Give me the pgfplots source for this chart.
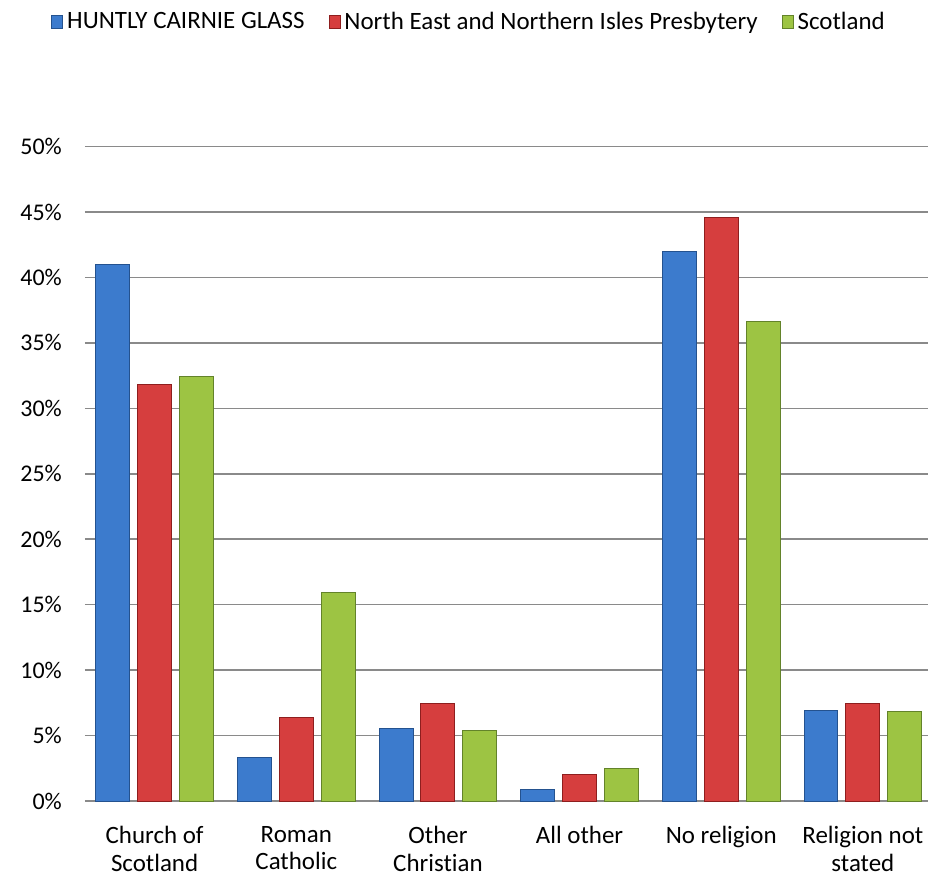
\documentclass[border=0pt]{standalone}
\usepackage{fontspec}
\setmainfont{Carlito}[Ligatures=NoCommon]
\usepackage{pgfplots}
\pgfplotsset{compat=1.18}
\definecolor{bblue}{HTML}{3C7BCD}
\definecolor{bbluedk}{HTML}{24528F}
\definecolor{rred}{HTML}{D63E3E}
\definecolor{rreddk}{HTML}{8E1E1E}
\definecolor{ggreen}{HTML}{9DC443}
\definecolor{ggreendk}{HTML}{63832A}
\definecolor{gridgray}{HTML}{8A8A8A}
\begin{document}
\begin{tikzpicture}
\begin{axis}[
  width=422.5pt, height=328pt, scale only axis,
  clip=false,
  xmin=-0.493, xmax=5.458, ymin=0, ymax=50,
  ybar=4pt, bar width=17pt,
  xtick={0,...,5},
  xticklabels={{Church of\\Scotland},{Roman\\Catholic},{Other\\Christian},{All other},{No religion},{Religion not\\stated}},
  xticklabel style={align=center, font=\fontsize{12.5}{14}\selectfont, yshift=-9pt, anchor=north},
  ytick={0,5,...,50},
  yticklabel={\pgfmathprintnumber{\tick}\%},
  yticklabel style={font=\fontsize{12}{13.5}\selectfont, xshift=-8pt},
  /pgf/number format/assume math mode=true,
  axis line style={draw=none},
  major tick length=0pt,
  ymajorgrids,
  major grid style={draw=gridgray, line width=0.8pt},
  legend columns=-1,
  legend style={draw=none, fill=none, font=\fontsize{12.5}{14}\selectfont,
    at={(rel axis cs:0.457,1.19)}, anchor=center,
    /tikz/every even column/.append style={column sep=10pt},
    /tikz/every odd column/.append style={column sep=0pt}},
  legend image code/.code={\draw[#1] (0pt,-3.25pt) rectangle (5.5pt,3.25pt);},
]
\addplot[draw=bbluedk, line width=0.5pt, fill=bblue]
  coordinates {(0,41.0) (1,3.3) (2,5.55) (3,0.9) (4,42.0) (5,6.9)};
\addplot[draw=rreddk, line width=0.5pt, fill=rred]
  coordinates {(0,31.8) (1,6.4) (2,7.45) (3,2.0) (4,44.6) (5,7.45)};
\addplot[draw=ggreendk, line width=0.5pt, fill=ggreen]
  coordinates {(0,32.4) (1,15.9) (2,5.4) (3,2.5) (4,36.6) (5,6.85)};
\legend{HUNTLY CAIRNIE GLASS, North East and Northern Isles Presbytery, Scotland}
\path (rel axis cs:-0.1006,-0.1098) rectangle (rel axis cs:1,1.224);
\end{axis}
\end{tikzpicture}
\end{document}
